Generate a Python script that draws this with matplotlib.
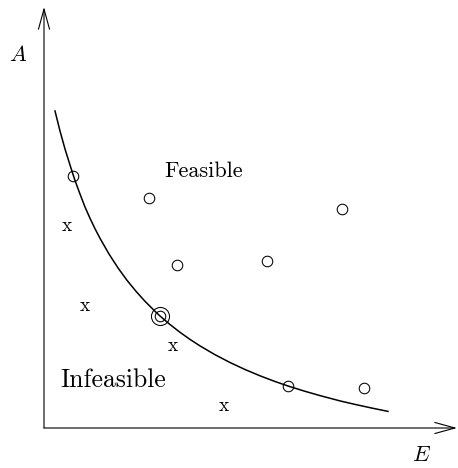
import matplotlib
matplotlib.use("Agg")
import matplotlib.pyplot as plt

plt.rcParams['mathtext.fontset'] = 'cm'

# boundary curve
curve_E = [11, 16, 21, 26, 31, 36, 41, 46, 51, 56, 65, 74, 83, 92, 101, 111, 116,
           126, 136, 146, 156, 171, 186, 201, 216, 231, 244, 261, 276, 296, 311, 328, 344]
curve_A = [317, 297, 279, 263, 247.5, 234, 221, 209.7, 199.3, 189.7, 174, 160.1, 147.7, 136.7,
           126.7, 116.7, 112, 103.5, 95.7, 88.6, 82.1, 73.3, 65.5, 58.5, 52.2, 46.5, 42,
           36.7, 32.4, 27.1, 23.6, 19.9, 16.6]

# feasible points (circles)
feas_E = [29, 105, 133, 223, 298, 116, 244, 320]
feas_A = [252, 230, 163, 167, 219, 112, 42, 40]

# highlighted point (double circle)
best_E = [116]
best_A = [112]

# infeasible points (x)
inf_E = [23, 41, 129, 180]
inf_A = [202, 122, 82, 22]

fig = plt.figure(figsize=(4.58, 4.68), dpi=100)
ax = fig.add_axes([0, 0, 1, 1])
ax.set_xlim(-44, 414)
ax.set_ylim(-40, 428)
ax.axis('off')

ax.plot(curve_E, curve_A, color='black', lw=1.1, solid_joinstyle='round')
ax.plot(feas_E, feas_A, 'o', mfc='none', mec='black', ms=7.6, mew=0.75)
ax.plot(best_E, best_A, 'o', mfc='none', mec='black', ms=13, mew=0.75)
for e, a in zip(inf_E, inf_A):
    ax.text(e, a, 'x', fontfamily='cmr10', fontsize=14, ha='center', va='center')

ax.text(160, 257, 'Feasible', fontfamily='cmr10', fontsize=16, ha='center', va='center')
ax.text(69, 48, 'Infeasible', fontfamily='cmr10', fontsize=18.5, ha='center', va='center')
ax.text(-26, 373, r'$A$', fontsize=16, ha='center', va='center')
ax.text(377, -27, r'$E$', fontsize=16, ha='center', va='center')

arrow = dict(arrowstyle='->,head_length=1.45,head_width=0.4', mutation_scale=10,
             color='black', lw=0.8, shrinkA=0, shrinkB=0)
ax.annotate('', xy=(0, 421), xytext=(0, 0), arrowprops=arrow)
ax.annotate('', xy=(413, 0), xytext=(0, 0), arrowprops=arrow)

fig.savefig('out.png', dpi=100)
